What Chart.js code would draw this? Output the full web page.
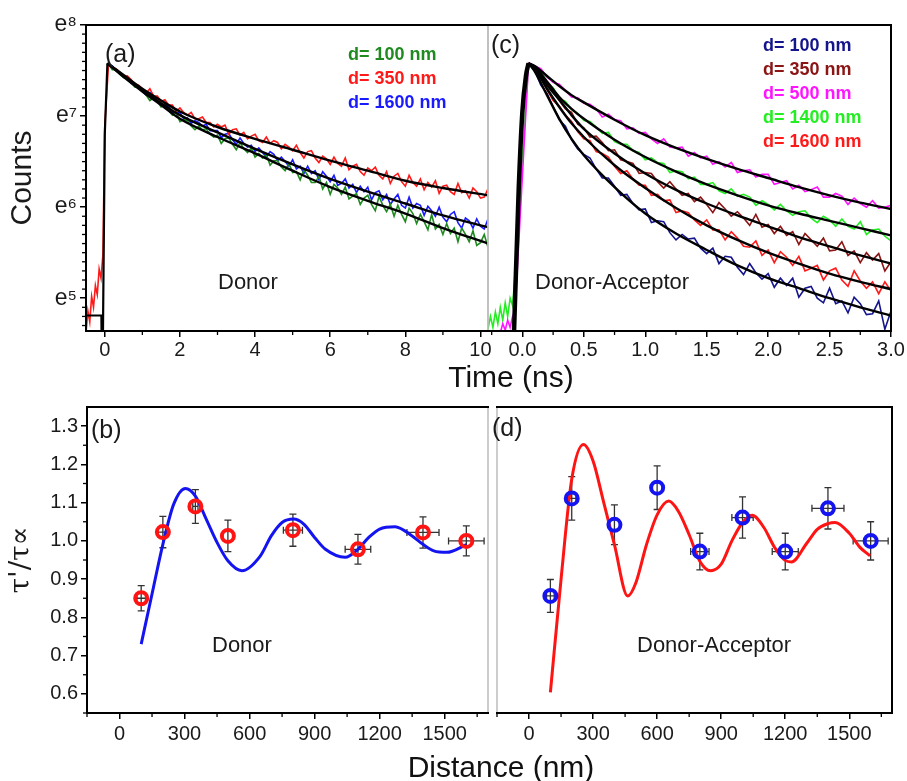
<!DOCTYPE html>
<html>
<head>
<meta charset="utf-8">
<script src="https://cdn.jsdelivr.net/npm/chart.js@4.4.1/dist/chart.umd.min.js"></script>
<style>
  body { margin: 0; background: #fff; width: 907px; height: 781px; position: relative; overflow: hidden; }
  canvas { position: absolute; }
  .ttl { position: absolute; transform: translate(-50%, -50%); font: 30px 'Liberation Sans', Arial, sans-serif;
         color: #111; white-space: nowrap; line-height: 1; }
</style>
</head>
<body>
<canvas id="chartA" width="500" height="390" style="left:0;top:0"></canvas>
<canvas id="chartC" width="420" height="390" style="left:487px;top:0"></canvas>
<canvas id="chartB" width="500" height="391" style="left:0;top:390px"></canvas>
<canvas id="chartD" width="420" height="391" style="left:487px;top:390px"></canvas>
<div class="ttl" style="left:511px;top:377px">Time (ns)</div>
<div class="ttl" style="left:501px;top:767px">Distance (nm)</div>
<script>
// ---- tick labels
const timeTicksA = [0, 2, 4, 6, 8, 10];
const timeTicksC = [0, 0.5, 1, 1.5, 2, 2.5, 3];
const lnTicks = [5, 6, 7, 8];
const distTicks = [0, 300, 600, 900, 1200, 1500];
const ratioTicks = [0.6, 0.7, 0.8, 0.9, 1.0, 1.1, 1.2, 1.3];

// ---- (a) donor decays, ln(counts) vs time (ns)
const keyA = ['d= 100 nm', 'd= 350 nm', 'd= 1600 nm'];
const tDecayA = [0.1, 0.2, 0.3, 0.4, 0.5, 0.6, 0.7, 0.8, 0.9, 1.0, 1.1, 1.2, 1.3, 1.4, 1.5, 1.6, 1.7, 1.8, 1.9, 2.0,
  2.1, 2.2, 2.3, 2.4, 2.5, 2.6, 2.7, 2.8, 2.9, 3.0, 3.1, 3.2, 3.3, 3.4, 3.5, 3.6, 3.7, 3.8, 3.9, 4.0,
  4.1, 4.2, 4.3, 4.4, 4.5, 4.6, 4.7, 4.8, 4.9, 5.0, 5.1, 5.2, 5.3, 5.4, 5.5, 5.6, 5.7, 5.8, 5.9, 6.0,
  6.1, 6.2, 6.3, 6.4, 6.5, 6.6, 6.7, 6.8, 6.9, 7.0, 7.1, 7.2, 7.3, 7.4, 7.5, 7.6, 7.7, 7.8, 7.9, 8.0,
  8.1, 8.2, 8.3, 8.4, 8.5, 8.6, 8.7, 8.8, 8.9, 9.0, 9.1, 9.2, 9.3, 9.4, 9.5, 9.6, 9.7, 9.8, 9.9, 10.0,
  10.1, 10.2];
const lnDonor100 = [7.57, 7.51, 7.51, 7.46, 7.42, 7.42, 7.37, 7.32, 7.31, 7.30,
  7.23, 7.17, 7.20, 7.16, 7.10, 7.12, 7.06, 7.01, 7.04, 6.94,
  6.96, 6.95, 6.89, 6.85, 6.89, 6.85, 6.86, 6.80, 6.77, 6.79,
  6.70, 6.75, 6.76, 6.69, 6.63, 6.71, 6.64, 6.60, 6.65, 6.55,
  6.59, 6.54, 6.58, 6.46, 6.51, 6.51, 6.44, 6.40, 6.48, 6.38,
  6.39, 6.30, 6.41, 6.35, 6.27, 6.27, 6.34, 6.20, 6.27, 6.14,
  6.25, 6.21, 6.14, 6.22, 6.09, 6.12, 6.15, 6.03, 6.10, 6.13,
  6.03, 5.96, 6.12, 6.02, 5.95, 6.03, 5.90, 6.02, 5.92, 5.84,
  5.99, 5.93, 5.82, 5.92, 5.84, 5.75, 5.92, 5.76, 5.81, 5.70,
  5.82, 5.71, 5.77, 5.62, 5.77, 5.70, 5.62, 5.74, 5.58, 5.61,
  5.70, 5.56];
const lnDonor350 = [7.57, 7.53, 7.52, 7.48, 7.43, 7.44, 7.40, 7.35, 7.34, 7.30,
  7.25, 7.30, 7.22, 7.22, 7.16, 7.18, 7.12, 7.12, 7.05, 7.09,
  7.04, 7.01, 7.04, 6.97, 6.97, 6.99, 6.93, 6.93, 6.88, 6.91,
  6.88, 6.90, 6.80, 6.85, 6.86, 6.79, 6.82, 6.75, 6.78, 6.80,
  6.73, 6.71, 6.77, 6.70, 6.73, 6.71, 6.64, 6.69, 6.66, 6.62,
  6.68, 6.60, 6.54, 6.61, 6.62, 6.54, 6.49, 6.56, 6.53, 6.47,
  6.55, 6.48, 6.45, 6.54, 6.41, 6.45, 6.47, 6.39, 6.35, 6.43,
  6.40, 6.44, 6.35, 6.31, 6.39, 6.26, 6.34, 6.37, 6.28, 6.23,
  6.35, 6.27, 6.23, 6.31, 6.19, 6.27, 6.22, 6.29, 6.15, 6.23,
  6.24, 6.17, 6.14, 6.26, 6.16, 6.18, 6.10, 6.21, 6.17, 6.10,
  6.11, 6.20];
const lnDonor1600 = [7.57, 7.55, 7.50, 7.48, 7.44, 7.43, 7.36, 7.34, 7.32, 7.27,
  7.23, 7.26, 7.19, 7.17, 7.11, 7.13, 7.10, 7.04, 7.03, 7.04,
  6.97, 6.98, 6.92, 6.95, 6.93, 6.89, 6.91, 6.84, 6.84, 6.84,
  6.76, 6.80, 6.81, 6.74, 6.69, 6.76, 6.70, 6.66, 6.68, 6.61,
  6.65, 6.60, 6.55, 6.61, 6.58, 6.51, 6.55, 6.50, 6.45, 6.52,
  6.42, 6.45, 6.37, 6.45, 6.37, 6.40, 6.30, 6.39, 6.34, 6.28,
  6.35, 6.24, 6.26, 6.31, 6.21, 6.25, 6.16, 6.23, 6.17, 6.22,
  6.08, 6.16, 6.18, 6.08, 6.14, 6.03, 6.09, 6.14, 6.02, 5.99,
  6.11, 5.99, 6.04, 6.02, 5.91, 6.01, 5.96, 5.90, 6.00, 5.89,
  5.84, 5.92, 5.95, 5.83, 5.77, 5.88, 5.85, 5.77, 5.87, 5.79,
  5.76, 5.87];
const tPreA = [-0.5, -0.45, -0.4, -0.35, -0.3, -0.25, -0.2, -0.15, -0.1, -0.05, 0.0];
const lnPre350 = [4.62, 4.86, 4.74, 5.02, 4.90, 5.14, 5.04, 5.32, 5.22, 5.48, 6.90];
// fits (a)
const tFitA = [0.07, 0.5, 1, 1.5, 2, 3, 4, 5, 6, 7, 8, 9, 10.2];
const fitDonor100 = [7.58, 7.43, 7.27, 7.12, 6.97, 6.77, 6.59, 6.40, 6.22, 6.07, 5.93, 5.77, 5.60];
const fitDonor350 = [7.58, 7.45, 7.30, 7.17, 7.05, 6.88, 6.75, 6.63, 6.51, 6.40, 6.29, 6.21, 6.13];
const fitDonor1600 = [7.58, 7.44, 7.28, 7.14, 7.01, 6.82, 6.64, 6.47, 6.31, 6.17, 6.04, 5.91, 5.78];
const tIrfA = [-0.5, -0.09, -0.085, -0.05, 0.0, 0.07];
const lnIrfA = [4.81, 4.81, 4.55, 4.55, 6.80, 7.58];

// ---- (c) donor-acceptor decays
const keyC = ['d= 100 nm', 'd= 350 nm', 'd= 500 nm', 'd= 1400 nm', 'd= 1600 nm'];
const tDecayC = [0.05, 0.10, 0.15, 0.20, 0.25, 0.30, 0.35, 0.40, 0.45, 0.50, 0.55, 0.60, 0.65, 0.70, 0.75, 0.80,
  0.85, 0.90, 0.95, 1.00, 1.05, 1.10, 1.15, 1.20, 1.25, 1.30, 1.35, 1.40, 1.45, 1.50, 1.55, 1.60, 1.65, 1.70,
  1.75, 1.80, 1.85, 1.90, 1.95, 2.00, 2.05, 2.10, 2.15, 2.20, 2.25, 2.30, 2.35, 2.40, 2.45, 2.50, 2.55, 2.60,
  2.65, 2.70, 2.75, 2.80, 2.85, 2.90, 2.95, 3.00];
const lnDA100 = [7.58, 7.50, 7.34, 7.25, 7.10, 6.96, 6.89, 6.74, 6.64, 6.58,
  6.54, 6.42, 6.32, 6.32, 6.23, 6.13, 6.14, 6.04, 5.97, 5.98,
  5.83, 5.85, 5.84, 5.72, 5.64, 5.70, 5.65, 5.66, 5.55, 5.49,
  5.55, 5.38, 5.46, 5.45, 5.34, 5.26, 5.38, 5.28, 5.21, 5.27,
  5.12, 5.22, 5.14, 5.22, 5.01, 5.11, 5.13, 5.00, 4.95, 5.11,
  4.94, 4.97, 4.84, 5.01, 4.94, 4.82, 4.83, 4.97, 4.66, 4.86];
const lnDA350 = [7.58, 7.54, 7.42, 7.36, 7.27, 7.17, 7.08, 7.04, 6.91, 6.87,
  6.77, 6.78, 6.71, 6.62, 6.63, 6.52, 6.50, 6.48, 6.37, 6.38,
  6.37, 6.28, 6.21, 6.28, 6.20, 6.13, 6.15, 6.06, 6.11, 6.03,
  5.94, 6.05, 5.98, 5.90, 5.95, 5.88, 5.80, 5.92, 5.78, 5.81,
  5.71, 5.79, 5.69, 5.73, 5.59, 5.71, 5.64, 5.57, 5.66, 5.52,
  5.53, 5.62, 5.47, 5.52, 5.39, 5.50, 5.42, 5.49, 5.30, 5.40];
const lnDA500 = [7.58, 7.55, 7.52, 7.43, 7.37, 7.35, 7.28, 7.21, 7.20, 7.14,
  7.13, 7.08, 6.99, 7.02, 6.96, 6.95, 6.86, 6.87, 6.81, 6.82,
  6.75, 6.70, 6.75, 6.66, 6.65, 6.66, 6.56, 6.60, 6.54, 6.56,
  6.47, 6.50, 6.44, 6.49, 6.38, 6.40, 6.41, 6.33, 6.36, 6.36,
  6.25, 6.27, 6.29, 6.20, 6.24, 6.17, 6.19, 6.22, 6.11, 6.11,
  6.15, 6.12, 6.03, 6.10, 6.04, 6.00, 6.07, 5.99, 6.00, 6.02];
const lnDA1400 = [7.58, 7.52, 7.49, 7.37, 7.31, 7.19, 7.16, 7.07, 7.03, 6.95,
  6.94, 6.88, 6.81, 6.82, 6.72, 6.69, 6.69, 6.62, 6.60, 6.52,
  6.54, 6.49, 6.48, 6.38, 6.40, 6.39, 6.31, 6.33, 6.25, 6.25,
  6.27, 6.18, 6.15, 6.20, 6.12, 6.14, 6.11, 6.02, 6.07, 6.03,
  5.97, 6.03, 5.96, 5.91, 5.95, 5.96, 5.88, 5.83, 5.90, 5.86,
  5.79, 5.87, 5.79, 5.76, 5.84, 5.70, 5.75, 5.76, 5.68, 5.63];
const lnDA1600 = [7.58, 7.53, 7.43, 7.29, 7.17, 7.11, 7.01, 6.94, 6.83, 6.75,
  6.73, 6.61, 6.59, 6.55, 6.45, 6.37, 6.40, 6.31, 6.24, 6.24,
  6.13, 6.14, 6.07, 6.08, 5.94, 5.96, 5.94, 5.86, 5.80, 5.86,
  5.75, 5.75, 5.64, 5.73, 5.66, 5.57, 5.56, 5.63, 5.47, 5.53,
  5.39, 5.51, 5.45, 5.36, 5.46, 5.30, 5.33, 5.36, 5.20, 5.30,
  5.33, 5.20, 5.13, 5.30, 5.19, 5.11, 5.18, 5.05, 5.18, 5.08];
const tPre1400 = [-0.28, -0.26, -0.24, -0.22, -0.20, -0.18, -0.16, -0.14, -0.12, -0.10, -0.08, -0.06];
const lnPre1400 = [4.66, 4.80, 4.68, 4.85, 4.72, 4.90, 4.76, 4.95, 4.80, 5.00, 4.92, 5.25];
const tPre500 = [-0.18, -0.16, -0.14, -0.12, -0.10, -0.08, -0.06];
const lnPre500 = [4.62, 4.72, 4.65, 4.76, 4.68, 4.80, 4.86];
// fits (c)
const tFitC = [0.05, 0.1, 0.2, 0.3, 0.4, 0.5, 0.75, 1.0, 1.25, 1.5, 1.75, 2.0, 2.25, 2.5, 2.75, 3.0];
const fitDA100 = [7.58, 7.49, 7.23, 6.97, 6.75, 6.57, 6.22, 5.93, 5.71, 5.53, 5.36, 5.22, 5.11, 5.00, 4.90, 4.81];
const fitDA350 = [7.58, 7.54, 7.34, 7.18, 7.01, 6.86, 6.59, 6.37, 6.19, 6.04, 5.91, 5.79, 5.67, 5.57, 5.47, 5.38];
const fitDA500 = [7.58, 7.55, 7.44, 7.33, 7.23, 7.15, 6.96, 6.79, 6.65, 6.53, 6.42, 6.32, 6.22, 6.13, 6.05, 5.98];
const fitDA1400 = [7.58, 7.54, 7.38, 7.21, 7.08, 6.97, 6.74, 6.55, 6.39, 6.25, 6.13, 6.02, 5.93, 5.85, 5.77, 5.69];
const fitDA1600 = [7.58, 7.52, 7.30, 7.10, 6.92, 6.77, 6.46, 6.21, 5.99, 5.80, 5.64, 5.50, 5.38, 5.27, 5.18, 5.10];
const tIrfC = [-0.07, -0.03, 0.0, 0.03, 0.05];
const lnIrfC = [4.55, 6.20, 7.05, 7.45, 7.58];

// ---- (b) donor lifetime ratio vs distance
const distDonor = [100, 200, 350, 500, 800, 1100, 1400, 1600];
const ratioDonor = [0.850, 1.023, 1.090, 1.013, 1.028, 0.978, 1.022, 1.000];
const errYDonor = [0.033, 0.041, 0.044, 0.041, 0.042, 0.039, 0.041, 0.039];
const errXDonor = [20, 22, 12, 0, 44, 59, 74, 82];
const distFitDonor = [100, 150, 200, 250, 304, 350, 400, 450, 500, 565, 650, 700, 750, 803, 850, 900, 950,
  1041, 1100, 1150, 1200, 1271, 1350, 1400, 1450, 1510, 1600];
const ratioFitDonor = [0.730, 0.861, 0.991, 1.096, 1.137, 1.117, 1.057, 0.996, 0.948, 0.922, 0.961, 1.013, 1.048,
  1.057, 1.044, 1.009, 0.978, 0.957, 0.978, 1.009, 1.031, 1.037, 1.013, 0.991, 0.974, 0.970, 0.990];

// ---- (d) donor-acceptor lifetime ratio vs distance
const distDA = [100, 200, 400, 600, 800, 1000, 1200, 1400, 1600];
const ratioDA = [0.856, 1.111, 1.042, 1.139, 0.972, 1.061, 0.972, 1.085, 1.000];
const errYDA = [0.043, 0.057, 0.052, 0.057, 0.048, 0.054, 0.048, 0.054, 0.050];
const errXDA = [18, 20, 0, 0, 43, 50, 61, 75, 82];
const distFitDA = [100, 150, 200, 255, 300, 350, 400, 462, 500, 550, 600, 654, 700, 750, 800, 850, 900, 950,
  1000, 1045, 1100, 1150, 1200, 1229, 1300, 1350, 1400, 1433, 1500, 1550, 1597];
const ratioFitDA = [0.604, 0.900, 1.161, 1.252, 1.209, 1.100, 0.990, 0.856, 0.890, 0.990, 1.068, 1.104, 1.077,
  1.016, 0.947, 0.922, 0.939, 1.000, 1.048, 1.067, 1.035, 0.983, 0.949, 0.945, 0.993, 1.030, 1.045, 1.048,
  1.020, 0.983, 0.961];

const FONT = "'Liberation Sans', Arial, sans-serif";
const TXT = '#1a1a1a';
const sup = {5: '\u2075', 6: '\u2076', 7: '\u2077', 8: '\u2078'};

function pts(xs, ys) { return xs.map((x, i) => ({x: x, y: ys[i]})); }

function trace(label, color, data) {
  return {label: label, data: data, borderColor: color, borderWidth: 1.6, pointRadius: 0,
    tension: 0, clip: 0, order: 2, inKey: true};
}
function fitLine(data, color, width, mono) {
  return {label: 'fit', data: data, borderColor: color, borderWidth: width, pointRadius: 0,
    cubicInterpolationMode: mono ? 'monotone' : 'default', tension: 0, clip: 0, order: 1};
}

// frame, minor ticks
const framePlugin = {
  id: 'frame',
  afterDraw(chart, args, o) {
    const ctx = chart.ctx, a = chart.chartArea, x = chart.scales.x, y = chart.scales.y;
    ctx.save();
    ctx.strokeStyle = '#000';
    ctx.lineWidth = 1.3;
    (o.minorX || []).forEach(v => {
      const px = x.getPixelForValue(v);
      ctx.beginPath(); ctx.moveTo(px, a.bottom); ctx.lineTo(px, a.bottom + 4); ctx.stroke();
    });
    (o.minorY || []).forEach(v => {
      const py = y.getPixelForValue(v);
      ctx.beginPath(); ctx.moveTo(a.left, py); ctx.lineTo(a.left - 4, py); ctx.stroke();
    });
    const line = (x1, y1, x2, y2, c, w) => {
      ctx.strokeStyle = c; ctx.lineWidth = w;
      ctx.beginPath(); ctx.moveTo(x1, y1); ctx.lineTo(x2, y2); ctx.stroke();
    };
    const gray = '#bdbdbd';
    line(a.left - 1, a.top, a.right + 1, a.top, '#000', 2);
    line(a.left - 1, a.bottom, a.right + 1, a.bottom, '#000', 2);
    if (o.divider === 'right') {
      line(a.left, a.top, a.left, a.bottom, '#000', 2);
      line(a.right, a.top + 1, a.right, a.bottom - 1, gray, 1.5);
    } else {
      line(a.right, a.top, a.right, a.bottom, '#000', 2);
      line(a.left, a.top + 1, a.left, a.bottom - 1, gray, 1.5);
    }
    ctx.restore();
  }
};

// panel letters, labels and the coloured key
const notesPlugin = {
  id: 'notes',
  afterDraw(chart, args, o) {
    const ctx = chart.ctx;
    ctx.save();
    ctx.textBaseline = 'middle';
    ctx.textAlign = 'left';
    (o.items || []).forEach(t => {
      ctx.font = t.font;
      ctx.fillStyle = TXT;
      ctx.fillText(t.text, t.x, t.y);
    });
    if (o.key) {
      ctx.font = 'bold 18px ' + FONT;
      let row = 0;
      chart.data.datasets.forEach(ds => {
        if (!ds.inKey) return;
        ctx.fillStyle = ds.borderColor;
        ctx.fillText(ds.label, o.key.x, o.key.y + row * o.key.dy);
        row++;
      });
    }
    ctx.restore();
  }
};

// x/y error bars for the marker series
const errorBarPlugin = {
  id: 'errbars',
  beforeDatasetsDraw(chart) {
    const ctx = chart.ctx, x = chart.scales.x, y = chart.scales.y;
    ctx.save();
    ctx.strokeStyle = '#333';
    ctx.lineWidth = 1.3;
    chart.data.datasets.forEach(ds => {
      if (!ds.errY) return;
      ds.data.forEach((p, j) => {
        const px = x.getPixelForValue(p.x), py = y.getPixelForValue(p.y);
        const yt = y.getPixelForValue(p.y + ds.errY[j]), yb = y.getPixelForValue(p.y - ds.errY[j]);
        ctx.beginPath();
        ctx.moveTo(px, yt); ctx.lineTo(px, yb);
        ctx.moveTo(px - 3.5, yt); ctx.lineTo(px + 3.5, yt);
        ctx.moveTo(px - 3.5, yb); ctx.lineTo(px + 3.5, yb);
        if (ds.errX[j] > 0) {
          const xl = x.getPixelForValue(p.x - ds.errX[j]), xr = x.getPixelForValue(p.x + ds.errX[j]);
          ctx.moveTo(xl, py); ctx.lineTo(xr, py);
          ctx.moveTo(xl, py - 3.5); ctx.lineTo(xl, py + 3.5);
          ctx.moveTo(xr, py - 3.5); ctx.lineTo(xr, py + 3.5);
        }
        ctx.stroke();
      });
    });
    ctx.restore();
  }
};

function xScale(min, max, tickVals, fmt, height, pad) {
  return {
    type: 'linear', position: 'bottom', min: min, max: max, bounds: 'data',
    afterBuildTicks: s => { s.ticks = tickVals.map(v => ({value: v})); },
    afterFit: s => { s.height = height; },
    ticks: {font: {family: FONT, size: 20}, color: TXT, padding: pad, maxRotation: 0, autoSkip: false,
      callback: fmt},
    grid: {drawOnChartArea: false, tickLength: 6, color: '#000', lineWidth: 1.5},
    border: {display: false}
  };
}
function yScale(min, max, tickVals, fmt, width, title, titleFont, tickSize) {
  if (!tickVals) {
    return {type: 'linear', min: min, max: max, display: false};
  }
  return {
    type: 'linear', position: 'left', min: min, max: max, bounds: 'data',
    afterBuildTicks: s => { s.ticks = tickVals.map(v => ({value: v})); },
    afterFit: s => { s.width = width; },
    ticks: {font: {family: FONT, size: tickSize}, color: TXT, padding: 3, autoSkip: false, callback: fmt},
    grid: {drawOnChartArea: false, tickLength: 6, color: '#000', lineWidth: 1.5},
    border: {display: false},
    title: {display: true, text: title, font: titleFont, color: TXT, padding: {top: 5, bottom: 0}}
  };
}
function baseOptions(padding, scales, plugins) {
  return {
    responsive: false, animation: false, events: [],
    layout: {padding: padding},
    scales: scales,
    plugins: Object.assign({legend: {display: false}, tooltip: {enabled: false}}, plugins)
  };
}

const lnMinor = [];
for (let k = 47; k < 80; k++) { if (k % 10 !== 0) lnMinor.push(k / 10); }
const ratioMinor = [];
for (let k = 11; k < 27; k += 2) ratioMinor.push(k / 20);
const distMinor = [-150, 150, 450, 750, 1050, 1350, 1650];
const lnLabel = v => 'e' + sup[v];

// (a)
new Chart(document.getElementById('chartA'), {
  type: 'line',
  data: {datasets: [
    fitLine(pts(tIrfA, lnIrfA), '#000', 2.2, false),
    fitLine(pts(tFitA, fitDonor100), '#000', 2.4, true),
    fitLine(pts(tFitA, fitDonor350), '#000', 2.4, true),
    fitLine(pts(tFitA, fitDonor1600), '#000', 2.4, true),
    trace(keyA[0], '#1f8a1f', pts(tDecayA, lnDonor100)),
    trace(keyA[1], '#ff1a1a', pts(tPreA, lnPre350).concat(pts(tDecayA, lnDonor350))),
    trace(keyA[2], '#1a1aff', pts(tDecayA, lnDonor1600))
  ]},
  options: baseOptions({left: 0, top: 25, right: 12, bottom: 0}, {
    x: xScale(-0.5, 10.2, timeTicksA, v => String(v), 59, 1),
    y: yScale(4.64, 8, lnTicks, lnLabel, 86, 'Counts', {family: FONT, size: 30}, 23)
  }, {
    frame: {divider: 'right', minorX: [1, 3, 5, 7, 9], minorY: lnMinor},
    notes: {items: [
      {text: '(a)', x: 105, y: 55, font: '25px ' + FONT},
      {text: 'Donor', x: 218, y: 283, font: '22px ' + FONT}
    ], key: {x: 348, y: 55, dy: 24}}
  }),
  plugins: [framePlugin, notesPlugin]
});

// (c)
new Chart(document.getElementById('chartC'), {
  type: 'line',
  data: {datasets: [
    fitLine(pts(tIrfC, lnIrfC), '#000', 4.5, true),
    fitLine(pts(tFitC, fitDA100), '#000', 2.4, true),
    fitLine(pts(tFitC, fitDA350), '#000', 2.4, true),
    fitLine(pts(tFitC, fitDA500), '#000', 2.4, true),
    fitLine(pts(tFitC, fitDA1400), '#000', 2.4, true),
    fitLine(pts(tFitC, fitDA1600), '#000', 2.4, true),
    trace(keyC[0], '#14148c', pts(tDecayC, lnDA100)),
    trace(keyC[1], '#8b1414', pts(tDecayC, lnDA350)),
    trace(keyC[2], '#ff14ff', pts(tPre500, lnPre500).concat(pts(tDecayC, lnDA500))),
    trace(keyC[3], '#22ee22', pts(tPre1400, lnPre1400).concat(pts(tDecayC, lnDA1400))),
    trace(keyC[4], '#ff1a1a', pts(tDecayC, lnDA1600))
  ]},
  options: baseOptions({left: 1, top: 25, right: 16, bottom: 0}, {
    x: xScale(-0.28, 3.0, timeTicksC, v => v.toFixed(1), 59, 1),
    y: yScale(4.64, 8, null)
  }, {
    frame: {divider: 'left', minorX: [-0.25, 0.25, 0.75, 1.25, 1.75, 2.25, 2.75]},
    notes: {items: [
      {text: '(c)', x: 4, y: 46, font: '25px ' + FONT},
      {text: 'Donor-Acceptor', x: 48, y: 283, font: '22px ' + FONT}
    ], key: {x: 276, y: 46, dy: 24}}
  }),
  plugins: [framePlugin, notesPlugin]
});

function markers(xs, ys, ex, ey, color) {
  return {label: 'data', data: pts(xs, ys), showLine: false, pointStyle: 'circle', pointRadius: 6,
    pointBorderWidth: 4, pointBorderColor: color, pointBackgroundColor: 'rgba(0,0,0,0)',
    borderColor: color, borderWidth: 4, errX: ex, errY: ey, order: 0};
}

// (b)
new Chart(document.getElementById('chartB'), {
  type: 'line',
  data: {datasets: [
    markers(distDonor, ratioDonor, errXDonor, errYDonor, '#ff1414'),
    fitLine(pts(distFitDonor, ratioFitDonor), '#1414f0', 3, true)
  ]},
  options: baseOptions({left: 0, top: 17, right: 12, bottom: 0}, {
    x: xScale(-150, 1700, distTicks, v => String(v), 68, 3),
    y: yScale(0.55, 1.35, ratioTicks, v => v.toFixed(1), 87, "\u03c4'/\u03c4\u221d",
      {family: "'DejaVu Serif', serif", size: 28}, 20)
  }, {
    frame: {divider: 'right', minorX: distMinor, minorY: ratioMinor},
    notes: {items: [
      {text: '(b)', x: 91, y: 41, font: '25px ' + FONT},
      {text: 'Donor', x: 212, y: 256, font: '22px ' + FONT}
    ]}
  }),
  plugins: [framePlugin, notesPlugin, errorBarPlugin]
});

// (d)
new Chart(document.getElementById('chartD'), {
  type: 'line',
  data: {datasets: [
    markers(distDA, ratioDA, errXDA, errYDA, '#1414f0'),
    fitLine(pts(distFitDA, ratioFitDA), '#ff1414', 3, true)
  ]},
  options: baseOptions({left: 1, top: 17, right: 15, bottom: 0}, {
    x: xScale(-150, 1700, distTicks, v => String(v), 68, 3),
    y: yScale(0.55, 1.35, null)
  }, {
    frame: {divider: 'left', minorX: distMinor},
    notes: {items: [
      {text: '(d)', x: 5, y: 39, font: '25px ' + FONT},
      {text: 'Donor-Acceptor', x: 150, y: 256, font: '22px ' + FONT}
    ]}
  }),
  plugins: [framePlugin, notesPlugin, errorBarPlugin]
});
</script>
</body>
</html>
